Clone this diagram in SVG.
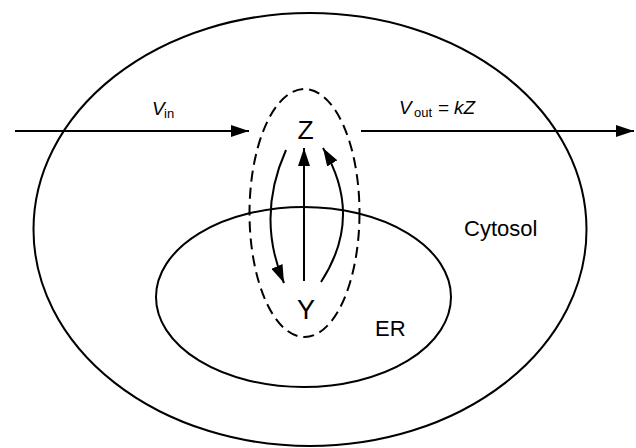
<svg xmlns="http://www.w3.org/2000/svg" width="636" height="448" viewBox="0 0 636 448">
<style>
.line{fill:none;stroke:#000;stroke-width:2}
.dash{fill:none;stroke:#000;stroke-width:2;stroke-dasharray:11 6}
.t{font-family:"Liberation Sans",Arial,sans-serif;fill:#000}
.it{font-style:italic}
.sub{font-size:13px}
</style>
<defs>
<marker id="ah" markerUnits="userSpaceOnUse" markerWidth="18" markerHeight="12" refX="18" refY="6" orient="auto">
<path d="M0,0 L18,6 L0,12 Z" fill="#000"/>
</marker>
</defs>
<rect width="636" height="448" fill="#fff"/>
<g id="cytosol">
<ellipse class="line" cx="310" cy="229.5" rx="276.5" ry="216.5"/>
<text class="t" x="464" y="236" font-size="22">Cytosol</text>
</g>
<g id="er">
<ellipse class="line" cx="303.5" cy="297" rx="147.5" ry="90"/>
<text class="t" x="375" y="336" font-size="22">ER</text>
</g>
<g id="pool">
<ellipse class="dash" cx="304.5" cy="213" rx="55" ry="124"/>
</g>
<g id="Z">
<text class="t" x="305.5" y="138.5" font-size="26.5" text-anchor="middle">Z</text>
</g>
<g id="Y">
<text class="t" x="306" y="319" font-size="27" text-anchor="middle">Y</text>
</g>
<g id="connectors">
<line class="line" x1="15" y1="131" x2="249" y2="131" marker-end="url(#ah)"/>
<line class="line" x1="361" y1="131" x2="634" y2="131" marker-end="url(#ah)"/>
<line class="line" x1="304" y1="281" x2="304" y2="148" marker-end="url(#ah)"/>
<path class="line" d="M286,150 Q256,217 284,283" marker-end="url(#ah)"/>
<path class="line" d="M321,282 Q364,216 323,148" marker-end="url(#ah)"/>
</g>
<g id="labels">
<text class="t" x="152" y="114.5" font-size="19"><tspan class="it">V</tspan><tspan class="sub" x="164" dy="3">in</tspan></text>
<text class="t" x="399" y="113.5" font-size="19"><tspan class="it">V</tspan><tspan class="sub" x="414" dy="3">out</tspan><tspan x="438" dy="-3">=</tspan><tspan class="it" x="454">kZ</tspan></text>
</g>
</svg>
